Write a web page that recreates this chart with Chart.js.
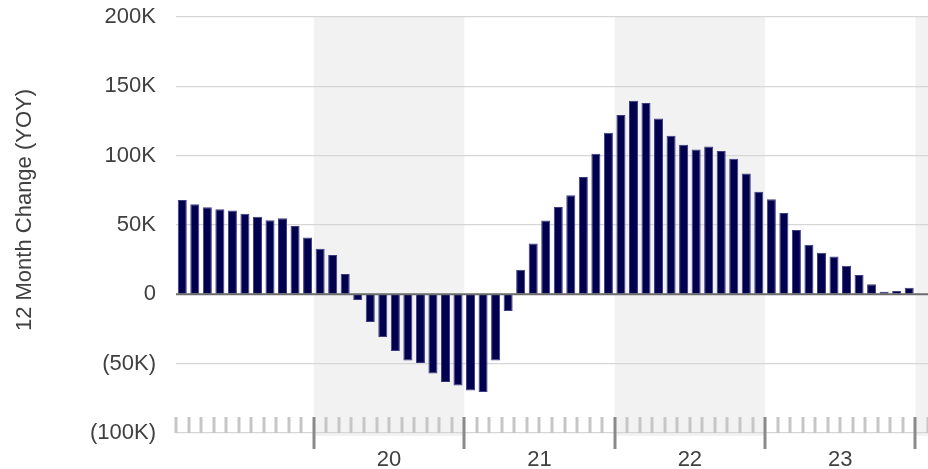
<!DOCTYPE html>
<html>
<head>
<meta charset="utf-8">
<script src="https://cdn.jsdelivr.net/npm/chart.js@4.4.0/dist/chart.umd.min.js"></script>
<style>
html,body{margin:0;padding:0;background:#fff;overflow:hidden}
#wrap{width:928px;height:469px;position:relative}
</style>
</head>
<body>
<div id="wrap"><canvas id="c" width="928" height="469"></canvas></div>
<script>
// ---- data ----
const months = [
  '2019-02','2019-03','2019-04','2019-05','2019-06','2019-07','2019-08','2019-09','2019-10','2019-11','2019-12',
  '2020-01','2020-02','2020-03','2020-04','2020-05','2020-06','2020-07','2020-08','2020-09','2020-10','2020-11','2020-12',
  '2021-01','2021-02','2021-03','2021-04','2021-05','2021-06','2021-07','2021-08','2021-09','2021-10','2021-11','2021-12',
  '2022-01','2022-02','2022-03','2022-04','2022-05','2022-06','2022-07','2022-08','2022-09','2022-10','2022-11','2022-12',
  '2023-01','2023-02','2023-03','2023-04','2023-05','2023-06','2023-07','2023-08','2023-09','2023-10','2023-11','2023-12',
  '2024-01'
];
const yoyChange = [
  68100, 65000, 62800, 61400, 60400, 58200, 56000, 53400, 54900, 49300, 40900,
  32900, 28400, 14700, -4100, -20000, -30800, -40900, -47700, -49600, -57100, -63300, -65700,
  -69300, -70500, -47700, -12100, 17800, 36600, 53200, 63000, 71500, 84700, 101300, 116500,
  129300, 139600, 137900, 126800, 114300, 107800, 104400, 106600, 103300, 97700, 87100, 73900,
  68600, 58700, 46400, 35800, 30000, 27200, 20700, 13900, 7200, 1900, 2400, 4800,
  null
];
const yMin = -100000;
const yMax = 200000;
const yStep = 50000;
const yearLabels = ['20', '21', '22', '23'];
const shadedYears = [2020, 2022, 2024];
const yAxisTitle = '12 Month Change (YOY)';

const FONT = '"Liberation Sans", Arial, Helvetica, sans-serif';
const TEXT = '#404040';

function fmtK(v) {
  if (v === 0) return '0';
  const s = Math.abs(v / 1000) + 'K';
  return v < 0 ? '(' + s + ')' : s;
}

const decor = {
  id: 'decor',
  beforeDraw(chart) {
    const { ctx, chartArea: a, scales: { x } } = chart;
    const half = (x.getPixelForValue(1) - x.getPixelForValue(0)) / 2;
    ctx.save();
    ctx.fillStyle = '#f2f2f2';
    months.forEach((m, i) => {
      if (m.endsWith('-01') && shadedYears.includes(+m.slice(0, 4))) {
        const x0 = x.getPixelForValue(i) - half;
        const x1 = Math.min(x0 + 24 * half, a.right);
        ctx.fillRect(x0, a.top, x1 - x0, a.bottom - a.top + 3);
      }
    });
    ctx.restore();
  },
  afterDatasetsDraw(chart) {
    const { ctx, chartArea: a, scales: { x, y } } = chart;
    const half = (x.getPixelForValue(1) - x.getPixelForValue(0)) / 2;
    ctx.save();
    // zero line
    const y0 = y.getPixelForValue(0);
    ctx.strokeStyle = '#6b6b6b';
    ctx.lineWidth = 2;
    ctx.beginPath();
    ctx.moveTo(a.left, y0);
    ctx.lineTo(a.right, y0);
    ctx.stroke();
    // tick band
    for (let i = 0; i <= months.length; i++) {
      const bx = (i < months.length ? x.getPixelForValue(i) : x.getPixelForValue(months.length - 1) + 2 * half) - half;
      const major = i < months.length && months[i].endsWith('-01');
      if (major) {
        ctx.fillStyle = '#8a8a8a';
        ctx.fillRect(Math.round(bx) - 1.5, a.bottom - 16, 3, 32);
      } else {
        ctx.fillStyle = '#c6c6c6';
        ctx.fillRect(Math.round(bx) - 1.5, a.bottom - 16, 3, 16);
      }
    }
    // year labels
    ctx.fillStyle = TEXT;
    ctx.font = '22px ' + FONT;
    ctx.textAlign = 'center';
    ctx.textBaseline = 'alphabetic';
    yearLabels.forEach(lbl => {
      const i = months.indexOf('20' + lbl + '-01');
      if (i < 0) return;
      const cx = x.getPixelForValue(i) - half + 12 * half;
      ctx.fillText(lbl, cx, a.bottom + 32.5);
    });
    ctx.restore();
  },
  afterDraw(chart) {
    const { ctx } = chart;
    ctx.save();
    ctx.translate(30.5, 210);
    ctx.rotate(-Math.PI / 2);
    ctx.fillStyle = TEXT;
    ctx.font = '22px ' + FONT;
    ctx.textAlign = 'center';
    ctx.textBaseline = 'alphabetic';
    ctx.fillText(yAxisTitle, 0, 0);
    ctx.restore();
  }
};

new Chart(document.getElementById('c'), {
  type: 'bar',
  data: {
    labels: months,
    datasets: [{
      data: yoyChange,
      backgroundColor: '#00004f',
      borderColor: '#3c3c84',
      borderWidth: 1,
      barPercentage: 0.72,
      categoryPercentage: 1.0
    }]
  },
  options: {
    responsive: false,
    animation: false,
    layout: { padding: { top: 17, bottom: 36, left: 0, right: 0 } },
    plugins: { legend: { display: false }, tooltip: { enabled: false } },
    scales: {
      x: { display: false, offset: true },
      y: {
        min: yMin,
        max: yMax,
        afterFit(scale) { scale.width = 176; },
        border: { display: false },
        grid: {
          drawTicks: true,
          tickLength: 20,
          tickColor: 'rgba(0,0,0,0)',
          color: ctx => (ctx.tick && ctx.tick.value === 0) ? 'rgba(0,0,0,0)' : '#d6d6d6',
          lineWidth: 1.3
        },
        ticks: {
          stepSize: yStep,
          padding: 0,
          color: TEXT,
          font: { family: FONT, size: 22 },
          callback: v => fmtK(v)
        }
      }
    }
  },
  plugins: [decor]
});
</script>
</body>
</html>
